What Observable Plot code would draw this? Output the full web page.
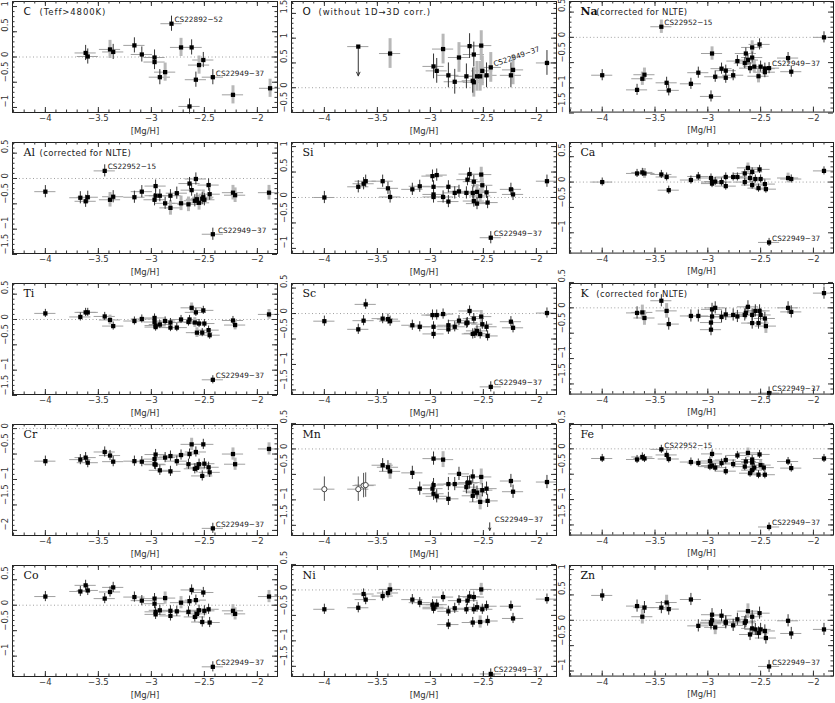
<!DOCTYPE html>
<html><head><meta charset="utf-8">
<script src="https://cdn.jsdelivr.net/npm/d3@7"></script>
<script src="https://cdn.jsdelivr.net/npm/@observablehq/plot@0.6"></script>
<style>
body{margin:0;background:#fff;}
#chart{position:relative;width:835px;height:703px;overflow:hidden;background:#fff;}
#chart > div{position:absolute;}
#chart svg{overflow:visible;}
</style></head><body><div id="chart"></div>
<script>
// ---------- DATA: [ [Mg/H], [X/Mg], flag ]  flag: 0 dark error bar, 1 grey error bar, 2 upper limit, 3 open symbol
const C_pts = [[-3.62,0.08,0],[-3.60,0.01,0],[-3.39,0.15,1],[-3.36,0.10,0],[-3.16,0.23,0],[-3.09,0.05,0],[-2.97,-0.01,0],[-2.97,-0.10,0],[-2.92,-0.40,0],[-2.87,-0.30,1],[-2.81,0.66,0],[-2.72,0.19,1],[-2.64,-0.98,0],[-2.62,0.19,0],[-2.58,-0.45,0],[-2.55,-0.16,1],[-2.51,-0.06,0],[-2.42,-0.40,0],[-2.23,-0.75,1],[-1.88,-0.62,1]];
const O_pts = [[-3.68,0.83,2],[-3.38,0.69,1],[-2.97,0.43,0],[-2.94,0.34,0],[-2.88,0.78,1],[-2.83,0.25,0],[-2.77,0.12,0],[-2.73,0.61,1],[-2.66,0.23,0],[-2.63,0.84,0],[-2.60,0.14,0],[-2.59,0.67,0],[-2.59,0.11,1],[-2.56,0.23,1],[-2.53,0.23,1],[-2.52,0.85,1],[-2.51,0.34,1],[-2.47,0.25,0],[-2.43,0.41,1],[-2.24,0.25,0],[-2.22,0.36,1],[-1.90,0.50,0]];
const Na_pts = [[-4.00,-0.75,0],[-3.67,-1.04,0],[-3.62,-0.82,1],[-3.60,-0.74,1],[-3.44,0.21,1],[-3.39,-0.90,0],[-3.37,-1.05,0],[-3.16,-0.92,0],[-3.09,-0.70,0],[-2.97,-1.17,0],[-2.96,-0.32,1],[-2.93,-0.78,0],[-2.87,-0.62,0],[-2.83,-0.66,0],[-2.83,-0.80,0],[-2.76,-0.75,0],[-2.72,-0.47,0],[-2.65,-0.51,0],[-2.64,-0.32,0],[-2.62,-0.45,0],[-2.60,-0.61,0],[-2.58,-0.20,1],[-2.58,-0.40,0],[-2.56,-0.58,1],[-2.52,-0.77,1],[-2.51,-0.14,0],[-2.50,-0.58,0],[-2.46,-0.62,0],[-2.46,-0.69,0],[-2.42,-0.61,0],[-2.24,-0.41,0],[-2.21,-0.68,0],[-1.90,0.00,0]];
const Al_pts = [[-4.00,-0.26,0],[-3.67,-0.38,0],[-3.62,-0.45,0],[-3.60,-0.37,0],[-3.44,0.15,0],[-3.39,-0.42,1],[-3.36,-0.36,0],[-3.16,-0.37,0],[-3.09,-0.26,0],[-2.97,-0.42,0],[-2.96,-0.15,0],[-2.96,-0.34,0],[-2.92,-0.34,0],[-2.87,-0.49,0],[-2.82,-0.34,0],[-2.82,-0.58,1],[-2.76,-0.29,0],[-2.72,-0.49,1],[-2.65,-0.51,1],[-2.64,-0.10,0],[-2.62,-0.23,0],[-2.59,-0.44,0],[-2.58,-0.01,0],[-2.57,-0.41,0],[-2.55,-0.48,1],[-2.52,-0.40,0],[-2.51,-0.37,1],[-2.50,-0.42,0],[-2.46,-0.13,0],[-2.45,-0.31,0],[-2.42,-1.10,0],[-2.23,-0.28,1],[-2.21,-0.33,1],[-1.89,-0.28,1]];
const Si_pts = [[-4.00,0.00,0],[-3.68,0.21,0],[-3.63,0.27,0],[-3.61,0.32,0],[-3.45,0.32,0],[-3.40,0.18,0],[-3.38,0.01,0],[-3.17,0.16,0],[-3.10,0.22,0],[-2.98,0.42,0],[-2.97,0.21,0],[-2.97,0.06,0],[-2.97,0.01,0],[-2.94,0.44,0],[-2.88,0.01,0],[-2.83,0.21,0],[-2.83,-0.08,0],[-2.77,0.09,0],[-2.73,0.12,0],[-2.66,0.09,0],[-2.65,0.35,0],[-2.63,0.46,0],[-2.60,0.09,0],[-2.59,0.31,0],[-2.59,-0.07,0],[-2.56,-0.12,0],[-2.56,0.11,1],[-2.53,0.03,1],[-2.52,0.45,1],[-2.51,0.24,1],[-2.47,0.10,0],[-2.46,-0.10,0],[-2.43,-0.79,0],[-2.24,0.16,0],[-2.22,0.06,0],[-1.90,0.32,0]];
const Ca_pts = [[-4.00,0.00,0],[-3.67,0.17,0],[-3.62,0.19,0],[-3.60,0.17,1],[-3.44,0.15,0],[-3.39,0.10,0],[-3.37,-0.16,0],[-3.16,0.04,0],[-3.09,0.11,0],[-2.97,0.08,0],[-2.96,0.00,0],[-2.96,-0.03,0],[-2.93,0.01,0],[-2.87,0.00,0],[-2.83,0.10,0],[-2.83,-0.08,0],[-2.76,0.10,0],[-2.72,0.10,0],[-2.65,0.17,0],[-2.65,0.00,0],[-2.62,0.28,1],[-2.60,0.08,0],[-2.58,0.20,0],[-2.58,-0.06,0],[-2.55,0.06,0],[-2.52,-0.12,0],[-2.51,0.25,0],[-2.50,0.06,0],[-2.46,-0.04,0],[-2.45,-0.14,0],[-2.42,-1.19,0],[-2.24,0.08,1],[-2.21,0.06,0],[-1.90,0.22,0]];
const Ti_pts = [[-4.00,0.12,0],[-3.67,0.05,0],[-3.62,0.14,0],[-3.60,0.14,0],[-3.44,0.06,0],[-3.39,-0.01,1],[-3.36,-0.13,0],[-3.16,-0.03,0],[-3.09,0.01,0],[-2.97,0.03,0],[-2.97,-0.05,0],[-2.96,-0.15,0],[-2.96,-0.12,0],[-2.92,-0.10,0],[-2.87,-0.03,0],[-2.82,-0.06,0],[-2.82,-0.16,0],[-2.76,-0.16,0],[-2.72,0.00,0],[-2.65,-0.05,0],[-2.64,0.00,0],[-2.62,0.23,1],[-2.59,-0.06,1],[-2.58,0.14,0],[-2.57,-0.26,1],[-2.55,-0.08,0],[-2.52,-0.26,0],[-2.51,0.18,0],[-2.50,-0.08,0],[-2.46,-0.21,0],[-2.45,-0.31,0],[-2.42,-1.19,0],[-2.23,-0.02,0],[-2.21,-0.11,1],[-1.89,0.10,1]];
const Sc_pts = [[-4.00,-0.15,0],[-3.68,-0.31,0],[-3.63,-0.14,0],[-3.61,0.18,0],[-3.45,-0.10,0],[-3.40,-0.11,0],[-3.38,-0.15,0],[-3.17,-0.23,0],[-3.10,-0.26,0],[-2.98,-0.03,0],[-2.97,-0.26,0],[-2.97,-0.40,0],[-2.94,-0.03,0],[-2.88,-0.01,0],[-2.83,-0.23,0],[-2.83,-0.31,0],[-2.77,-0.26,0],[-2.73,-0.14,0],[-2.66,-0.19,0],[-2.65,-0.18,0],[-2.63,0.05,0],[-2.60,-0.40,0],[-2.59,-0.10,0],[-2.58,-0.39,0],[-2.56,-0.34,0],[-2.53,-0.40,0],[-2.52,-0.06,1],[-2.51,-0.21,0],[-2.47,-0.26,0],[-2.46,-0.44,0],[-2.43,-1.44,0],[-2.24,-0.16,0],[-2.22,-0.28,0],[-1.90,0.01,0]];
const K_pts = [[-3.67,-0.10,0],[-3.62,-0.09,1],[-3.60,-0.20,1],[-3.44,0.14,0],[-3.39,-0.06,1],[-3.37,-0.32,0],[-3.16,-0.16,0],[-3.09,-0.16,0],[-2.97,-0.29,0],[-2.97,-0.43,0],[-2.96,-0.17,0],[-2.96,-0.03,0],[-2.93,0.00,0],[-2.87,-0.18,0],[-2.83,-0.13,0],[-2.76,-0.14,0],[-2.72,-0.17,0],[-2.65,-0.14,0],[-2.64,-0.10,0],[-2.62,0.02,0],[-2.58,-0.14,0],[-2.58,-0.30,0],[-2.55,-0.06,0],[-2.52,-0.30,0],[-2.51,-0.06,0],[-2.50,-0.14,0],[-2.46,-0.21,0],[-2.45,-0.36,1],[-2.42,-1.68,0],[-2.24,0.00,0],[-2.21,-0.08,0],[-1.90,0.29,0]];
const Cr_pts = [[-4.00,-0.64,0],[-3.67,-0.61,0],[-3.62,-0.57,0],[-3.60,-0.67,0],[-3.44,-0.46,0],[-3.39,-0.53,0],[-3.36,-0.65,0],[-3.16,-0.64,0],[-3.09,-0.65,0],[-2.97,-0.60,0],[-2.96,-0.51,0],[-2.97,-0.70,0],[-2.96,-0.71,0],[-2.92,-0.82,0],[-2.87,-0.57,0],[-2.82,-0.54,0],[-2.82,-0.84,0],[-2.76,-0.64,0],[-2.72,-0.52,0],[-2.65,-0.70,0],[-2.64,-0.50,0],[-2.62,-0.31,1],[-2.59,-0.79,0],[-2.58,-0.46,0],[-2.57,-0.77,0],[-2.55,-0.70,0],[-2.52,-0.93,0],[-2.51,-0.31,0],[-2.50,-0.69,0],[-2.46,-0.76,0],[-2.45,-0.86,0],[-2.42,-1.96,0],[-2.23,-0.50,1],[-2.21,-0.70,1],[-1.89,-0.40,1]];
const Mn_pts = [[-4.00,-0.79,3],[-3.68,-0.79,3],[-3.63,-0.72,3],[-3.61,-0.71,3],[-3.45,-0.32,0],[-3.40,-0.36,0],[-3.38,-0.44,1],[-3.17,-0.47,0],[-3.10,-0.78,0],[-2.98,-0.78,0],[-2.97,-0.19,0],[-2.97,-0.71,0],[-2.97,-0.88,0],[-2.94,-0.93,0],[-2.88,-0.21,1],[-2.83,-0.69,0],[-2.83,-0.98,0],[-2.77,-0.69,0],[-2.73,-0.49,0],[-2.66,-0.75,0],[-2.65,-0.67,0],[-2.63,-0.66,0],[-2.60,-0.92,0],[-2.60,-0.54,0],[-2.59,-0.83,0],[-2.56,-0.86,0],[-2.53,-1.04,1],[-2.52,-0.55,1],[-2.51,-0.81,0],[-2.47,-0.78,0],[-2.46,-1.02,0],[-2.24,-0.63,0],[-2.22,-0.84,0],[-1.90,-0.65,0]];
const Fe_pts = [[-4.00,-0.19,0],[-3.67,-0.21,0],[-3.62,-0.16,0],[-3.60,-0.19,0],[-3.44,-0.01,0],[-3.39,-0.12,0],[-3.37,-0.20,0],[-3.16,-0.26,0],[-3.09,-0.28,0],[-2.98,-0.24,0],[-2.96,-0.10,0],[-2.98,-0.35,0],[-2.96,-0.33,0],[-2.93,-0.37,0],[-2.87,-0.28,0],[-2.83,-0.22,0],[-2.83,-0.44,0],[-2.76,-0.30,0],[-2.72,-0.13,0],[-2.65,-0.35,0],[-2.64,-0.25,0],[-2.62,-0.08,1],[-2.60,-0.48,0],[-2.58,-0.21,0],[-2.58,-0.42,0],[-2.58,-0.27,0],[-2.56,-0.37,0],[-2.52,-0.51,0],[-2.51,-0.11,0],[-2.50,-0.32,1],[-2.47,-0.37,0],[-2.46,-0.51,0],[-2.42,-1.54,0],[-2.24,-0.25,0],[-2.21,-0.38,0],[-1.90,-0.19,0]];
const Co_pts = [[-4.00,0.17,0],[-3.67,0.27,0],[-3.62,0.39,0],[-3.60,0.29,0],[-3.44,0.13,0],[-3.39,0.26,0],[-3.36,0.35,0],[-3.16,0.16,0],[-3.09,0.09,0],[-2.97,0.13,0],[-2.97,0.03,0],[-2.96,-0.13,0],[-2.96,-0.18,0],[-2.92,-0.10,0],[-2.87,0.14,1],[-2.82,-0.11,0],[-2.82,-0.21,0],[-2.76,-0.12,0],[-2.72,0.05,1],[-2.65,-0.13,0],[-2.64,0.08,0],[-2.62,0.30,0],[-2.59,-0.23,0],[-2.58,0.10,0],[-2.57,-0.17,0],[-2.55,-0.10,0],[-2.52,-0.33,0],[-2.51,0.25,0],[-2.50,-0.11,0],[-2.46,-0.08,0],[-2.45,-0.34,0],[-2.42,-1.21,0],[-2.23,-0.11,1],[-2.21,-0.17,1],[-1.89,0.17,1]];
const Ni_pts = [[-4.00,-0.38,0],[-3.68,-0.35,0],[-3.63,-0.08,0],[-3.61,-0.19,0],[-3.45,-0.12,0],[-3.40,-0.06,0],[-3.38,0.01,1],[-3.17,-0.19,0],[-3.10,-0.25,0],[-2.98,-0.29,0],[-2.97,-0.37,0],[-2.97,-0.34,0],[-2.94,-0.29,0],[-2.88,-0.14,0],[-2.83,-0.42,0],[-2.83,-0.68,0],[-2.77,-0.36,0],[-2.73,-0.21,0],[-2.66,-0.38,0],[-2.65,-0.21,0],[-2.63,-0.13,0],[-2.60,-0.64,0],[-2.59,-0.14,0],[-2.59,-0.38,0],[-2.56,-0.34,0],[-2.53,-0.63,1],[-2.52,0.01,1],[-2.51,-0.38,0],[-2.47,-0.32,0],[-2.46,-0.61,0],[-2.43,-1.65,0],[-2.24,-0.32,0],[-2.22,-0.56,0],[-1.90,-0.18,0]];
const Zn_pts = [[-4.00,0.49,0],[-3.67,0.28,0],[-3.62,0.07,1],[-3.60,0.25,0],[-3.44,0.25,0],[-3.39,0.35,1],[-3.37,0.22,0],[-3.16,0.41,0],[-3.09,-0.11,0],[-2.97,-0.07,0],[-2.97,-0.04,0],[-2.96,0.11,0],[-2.96,0.00,0],[-2.93,-0.14,1],[-2.87,0.09,0],[-2.83,-0.03,0],[-2.83,-0.05,0],[-2.76,-0.10,0],[-2.72,0.02,0],[-2.65,-0.05,0],[-2.64,-0.02,0],[-2.62,0.18,1],[-2.60,-0.28,0],[-2.58,0.07,0],[-2.58,-0.16,0],[-2.55,-0.18,0],[-2.52,-0.25,0],[-2.51,0.14,0],[-2.50,-0.18,0],[-2.46,-0.21,0],[-2.45,-0.35,0],[-2.42,-0.91,0],[-2.24,-0.01,0],[-2.21,-0.26,0],[-1.90,-0.18,0]];

// upper limits: [ [Mg/H], from, to ]
const O_limits = [[-3.68, 0.83, 0.24]];
const Mn_limits = [[-2.44, -1.45, -1.60]];

// star labels: [ [Mg/H], value, text ]
const C_notes = [[-2.81,0.66,"CS22892−52"],[-2.42,-0.40,"CS22949−37"]];
const O_notes = [[-2.43,0.41,"CS22949−37"]];
const Na_notes = [[-3.44,0.21,"CS22952−15"],[-2.42,-0.61,"CS22949−37"]];
const Al_notes = [[-3.44,0.15,"CS22952−15"],[-2.40,-1.10,"CS22949−37"]];
const Si_notes = [[-2.43,-0.79,"CS22949−37"]];
const Ca_notes = [[-2.42,-1.19,"CS22949−37"]];
const Ti_notes = [[-2.42,-1.19,"CS22949−37"]];
const Sc_notes = [[-2.43,-1.44,"CS22949−37"]];
const K_notes = [[-2.42,-1.68,"CS22949−37"]];
const Cr_notes = [[-2.42,-1.96,"CS22949−37"]];
const Mn_notes = [[-2.42,-1.46,"CS22949−37"]];
const Fe_notes = [[-3.44,-0.01,"CS22952−15"],[-2.42,-1.54,"CS22949−37"]];
const Co_notes = [[-2.42,-1.21,"CS22949−37"]];
const Ni_notes = [[-2.43,-1.65,"CS22949−37"]];
const Zn_notes = [[-2.42,-0.91,"CS22949−37"]];

const elements = ["C","O","Na","Al","Si","Ca","Ti","Sc","K","Cr","Mn","Fe","Co","Ni","Zn"];
const subtitles = ["(Teff>4800K)","(without 1D→3D corr.)","(corrected for NLTE)","(corrected for NLTE)","","","","","(corrected for NLTE)","","","","","",""];
const panelPts = [C_pts,O_pts,Na_pts,Al_pts,Si_pts,Ca_pts,Ti_pts,Sc_pts,K_pts,Cr_pts,Mn_pts,Fe_pts,Co_pts,Ni_pts,Zn_pts];
const panelNotes = [C_notes,O_notes,Na_notes,Al_notes,Si_notes,Ca_notes,Ti_notes,Sc_notes,K_notes,Cr_notes,Mn_notes,Fe_notes,Co_notes,Ni_notes,Zn_notes];
const panelLimits = [[],O_limits,[],[],[],[],[],[],[],[],Mn_limits,[],[],[],[]];
const yDomains = [[-1.10,1.10],[-0.50,1.74],[-1.48,0.71],[-1.48,0.71],[-1.10,1.08],[-1.40,0.78],[-1.48,0.71],[-1.59,0.59],[-1.70,0.48],[-2.10,0.08],[-1.70,0.48],[-1.70,0.48],[-1.40,0.78],[-1.70,0.48],[-1.10,1.08]];
const yErr = [0.15,0.25,0.11,0.12,0.12,0.08,0.08,0.10,0.12,0.10,0.13,0.08,0.10,0.10,0.12];
const xErr = 0.1;
const xDomain = [-4.31, -1.81];
const xTicks = [-4, -3.5, -3, -2.5, -2];
const xLabel = "[Mg/H]";

// ---------- LAYOUT
const W = 265, H = 111, ML = 12, MR = 2, MT = 1, MB = 29;
const colLeft = [12, 291, 569];
const rowTop = [1, 142, 283, 424, 565];
const fmt = d => (d < 0 ? "−" : "") + String(+Math.abs(d).toFixed(1)).replace(/\.0$/, "");
const sansFont = "DejaVu Sans, sans-serif";
const serifFont = "DejaVu Serif, Liberation Serif, serif";

const chart = document.getElementById("chart");

elements.forEach((el, i) => {
  const pts = panelPts[i];
  const [lo, hi] = yDomains[i];
  const ey = yErr[i];
  const yMinor = d3.range(Math.ceil(lo * 10 - 1e-6), Math.floor(hi * 10 + 1e-6) + 1).map(d => d / 10);
  const yMajor = d3.range(Math.ceil(lo * 2 - 0.06), Math.floor(hi * 2 + 0.06) + 1).map(d => d / 2);
  const xMinor = d3.range(-43, -18).map(d => d / 10).filter(d => d >= xDomain[0] && d <= xDomain[1]);
  const withBar = pts.filter(d => d[2] !== 2);
  const dark = withBar.filter(d => d[2] === 0);
  const grey = withBar.filter(d => d[2] === 1);
  const open = pts.filter(d => d[2] === 3);
  const filled = pts.filter(d => d[2] !== 3);
  const serif = !(el === "C" || el === "O");

  const marks = [
    Plot.ruleY([0], {stroke: "#888", strokeWidth: 0.8, strokeDasharray: "1 2.5"}),
    Plot.ruleY(pts, {y: d => d[1], x1: d => d[0] - xErr, x2: d => d[0] + xErr, stroke: "#a0a0a0", strokeWidth: 1}),
    Plot.ruleX(grey, {x: d => d[0], y1: d => d[1] - ey * 1.2, y2: d => d[1] + ey * 1.2, stroke: "#b8b8b8", strokeWidth: 3}),
    Plot.ruleX(dark, {x: d => d[0], y1: d => d[1] - ey, y2: d => d[1] + ey, stroke: "#333", strokeWidth: 1}),
    Plot.ruleX(open, {x: d => d[0], y1: d => d[1] - 0.24, y2: d => d[1] + 0.24, stroke: "#555", strokeWidth: 1}),
    Plot.arrow(panelLimits[i], {x: d => d[0], y1: d => d[1], y2: d => d[2], stroke: "#333", strokeWidth: 1, headLength: 6, headAngle: 50}),
    Plot.dot(filled, {x: d => d[0], y: d => d[1], symbol: "square", r: 2.4, fill: "#000", stroke: "none"}),
    Plot.dot(open, {x: d => d[0], y: d => d[1], r: 2.6, fill: "#fff", stroke: "#444", strokeWidth: 1}),
    Plot.text(panelNotes[i], {x: d => d[0], y: d => d[1], text: d => d[2], textAnchor: "start",
      dx: 3, dy: el === "O" ? -3 : -4, rotate: el === "O" ? -19 : 0,
      fontSize: 7.3, fill: "#222", fontFamily: sansFont}),
    Plot.frame({stroke: "#222", strokeWidth: 1}),
    // inward ticks
    Plot.tickY(yMinor, {y: d => d, insetRight: W - 2.5, stroke: "#333"}),
    Plot.tickY(yMajor, {y: d => d, insetRight: W - 5, stroke: "#333"}),
    Plot.tickY(yMinor, {y: d => d, insetLeft: W - 2.5, stroke: "#333"}),
    Plot.tickY(yMajor, {y: d => d, insetLeft: W - 5, stroke: "#333"}),
    Plot.tickX(xMinor, {x: d => d, insetBottom: H - 2.5, stroke: "#333"}),
    Plot.tickX(xTicks, {x: d => d, insetBottom: H - 5, stroke: "#333"}),
    Plot.tickX(xMinor, {x: d => d, insetTop: H - 2.5, stroke: "#333"}),
    Plot.tickX(xTicks, {x: d => d, insetTop: H - 5, stroke: "#333"}),
    // tick labels
    Plot.text(yMajor, {y: d => d, text: d => fmt(d), frameAnchor: "left", dx: -7, rotate: -90, fontSize: 8.5, fill: "#333", fontFamily: sansFont}),
    Plot.text(xTicks, {x: d => d, text: d => fmt(d), frameAnchor: "bottom", dy: 8.5, fontSize: 8.5, fill: "#333", fontFamily: sansFont}),
    Plot.text([xLabel], {text: d => d, frameAnchor: "bottom", dy: 21, fontSize: 8.5, fill: "#333", fontFamily: sansFont}),
    // element label
    Plot.text([el], {text: d => d, frameAnchor: "top-left", dx: 11, dy: 6, lineAnchor: "top", textAnchor: "start",
      fontSize: serif ? 11 : 10.5, fontWeight: el === "Na" ? "bold" : "normal", fill: "#111",
      fontFamily: serif ? serifFont : sansFont}),
    Plot.text([subtitles[i]], {text: d => d, frameAnchor: "top-left", dx: 27, dy: 7.5, lineAnchor: "top", textAnchor: "start",
      fontSize: 8.5, fill: "#222", fontFamily: sansFont})
  ];

  const svg = Plot.plot({
    width: W + ML + MR, height: H + MT + MB,
    marginLeft: ML, marginRight: MR, marginTop: MT, marginBottom: MB,
    x: {domain: xDomain, axis: null},
    y: {domain: [lo, hi], axis: null},
    style: {fontFamily: sansFont, fontSize: "8.5px", overflow: "visible", background: "transparent"},
    marks
  });
  // widen the subtitle spacing like the original plotting font
  if (subtitles[i]) {
    svg.querySelectorAll("text").forEach(t => {
      if (t.textContent === subtitles[i]) t.style.letterSpacing = (el === "C" || el === "O") ? "0.9px" : "0.35px";
    });
  }
  const div = document.createElement("div");
  div.style.left = (colLeft[i % 3] - ML) + "px";
  div.style.top = (rowTop[Math.floor(i / 3)] - MT) + "px";
  div.appendChild(svg);
  chart.appendChild(div);
});
</script></body></html>
